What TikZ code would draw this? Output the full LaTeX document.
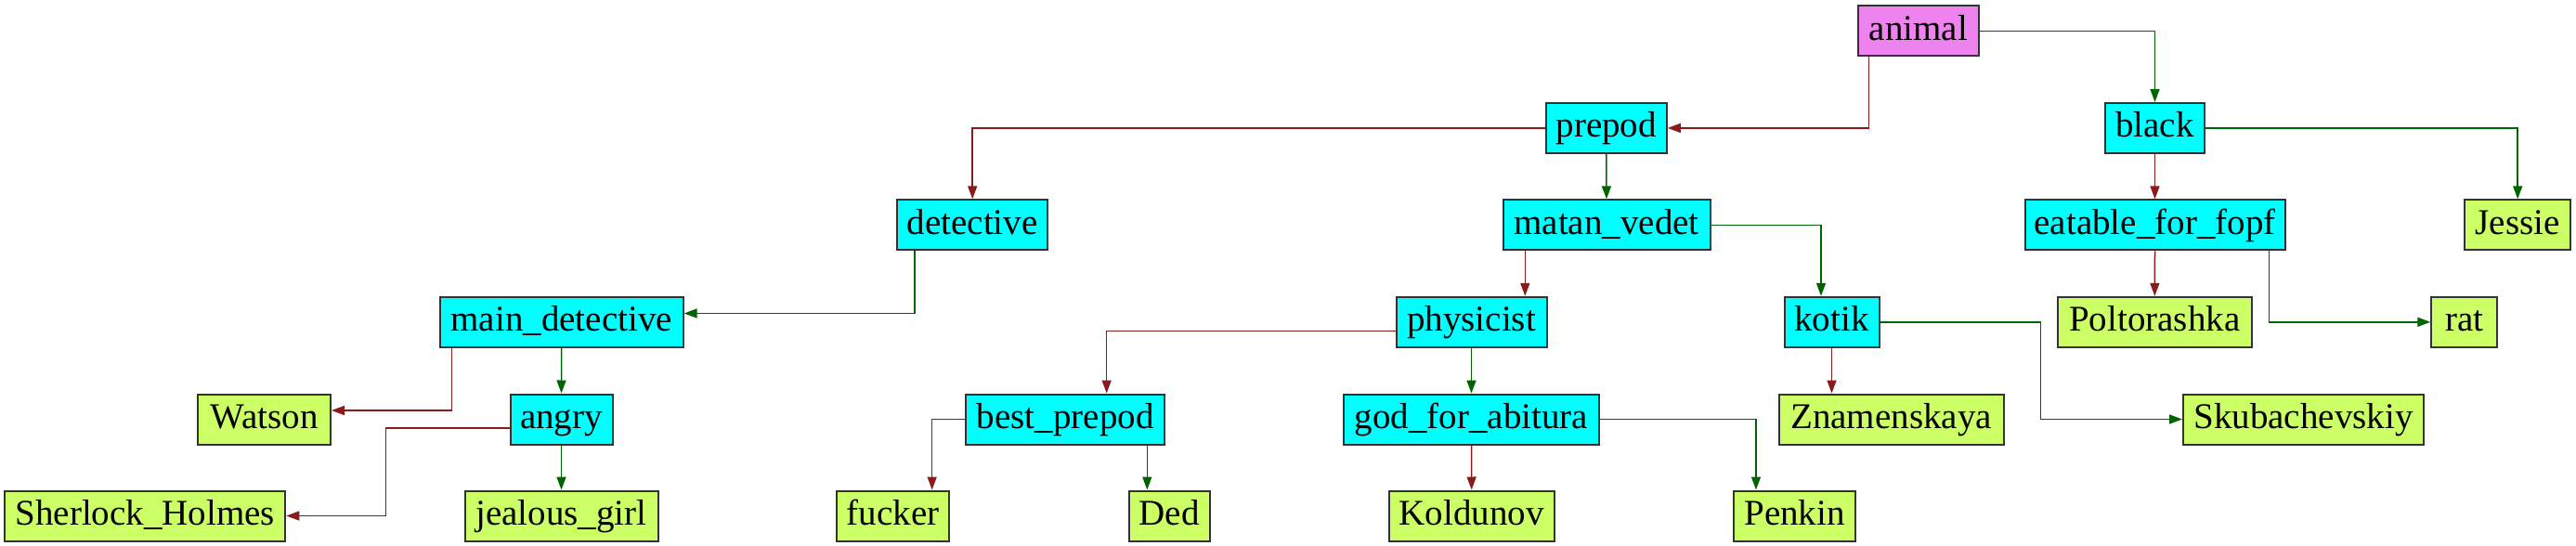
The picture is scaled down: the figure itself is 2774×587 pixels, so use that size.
\documentclass[tikz,border=0pt]{standalone}
\usepackage{fontspec}
\setmainfont{Liberation Serif}
\usetikzlibrary{arrows.meta}
\definecolor{cyanbox}{RGB}{0,255,255}
\definecolor{violetbox}{RGB}{238,130,238}
\definecolor{leafbox}{RGB}{204,255,102}
\definecolor{redge}{RGB}{139,26,26}
\definecolor{gedge}{RGB}{0,100,0}
\definecolor{bordc}{RGB}{51,51,51}
\begin{document}
\begin{tikzpicture}[x=1pt,y=-1pt,
  box/.style={draw=bordc, line width=2pt, rectangle, minimum height=54pt, inner sep=0pt,
    font=\fontsize{39pt}{47pt}\selectfont, text height=28pt, text depth=8pt, anchor=center},
  innerbox/.style={box, fill=cyanbox},
  leafbox/.style={box, fill=leafbox},
  rootbox/.style={box, fill=violetbox},
  redarr/.style={draw=redge, line width=1.5pt, -{Triangle[length=14pt,width=10pt]}},
  grnarr/.style={draw=gedge, line width=1.5pt, -{Triangle[length=14pt,width=10pt]}}]
\useasboundingbox (0,0) rectangle (2774,587);
% row 0
\node[rootbox, minimum width=130pt] (animal) at (2065.8,33.3) {animal};
% row 1
\node[innerbox, minimum width=130pt] (prepod) at (1729.8,137.9) {prepod};
\node[innerbox, minimum width=107pt] (black) at (2320.5,137.9) {black};
% row 2
\node[innerbox, minimum width=162pt] (detective) at (1047.2,242.3) {detective};
\node[innerbox, minimum width=223pt] (matan) at (1730,242.3) {matan\_vedet};
\node[innerbox, minimum width=280pt] (eatable) at (2320.5,242.3) {eatable\_for\_fopf};
\node[leafbox, minimum width=114pt] (Jessie) at (2711.2,242.3) {Jessie};
% row 3
\node[innerbox, minimum width=262pt] (main) at (604.7,346.8) {main\_detective};
\node[innerbox, minimum width=162pt] (physicist) at (1584.5,346.8) {physicist};
\node[innerbox, minimum width=102pt] (kotik) at (1972.5,346.8) {kotik};
\node[leafbox, minimum width=209pt] (Poltorashka) at (2320.3,346.8) {Poltorashka};
\node[leafbox, minimum width=71pt] (rat) at (2653.8,346.8) {rat};
% row 4
\node[leafbox, minimum width=143pt] (Watson) at (284.5,451.5) {Watson};
\node[innerbox, minimum width=110pt] (angry) at (604.5,451.5) {angry};
\node[innerbox, minimum width=214pt] (best) at (1147.2,451.5) {best\_prepod};
\node[innerbox, minimum width=275pt] (god) at (1584.5,451.5) {god\_for\_abitura};
\node[leafbox, minimum width=242pt] (Znam) at (2036.5,451.5) {Znamenskaya};
\node[leafbox, minimum width=259pt] (Skub) at (2480.5,451.5) {Skubachevskiy};
% row 5
\node[leafbox, minimum width=302pt] (Sherlock) at (156.3,555.5) {Sherlock\_Holmes};
\node[leafbox, minimum width=208pt] (jealous) at (604.5,555.5) {jealous\_girl};
\node[leafbox, minimum width=121pt] (fucker) at (961.7,555.5) {fucker};
\node[leafbox, minimum width=87pt] (Ded) at (1259.2,555.5) {Ded};
\node[leafbox, minimum width=178pt] (Koldunov) at (1584.7,555.5) {Koldunov};
\node[leafbox, minimum width=131pt] (Penkin) at (1932.5,555.5) {Penkin};
% edges
\draw[redarr] ([xshift=-53.5pt]animal.south) |- (prepod.east);
\draw[grnarr] (animal.east) -| (black.north);
\draw[redarr] (prepod.west) -| (detective.north);
\draw[grnarr] (prepod.south) -- (matan.north);
\draw[redarr] (black.south) -- (eatable.north);
\draw[grnarr] (black.east) -| (Jessie.north);
\draw[grnarr] ([xshift=-62.2pt]detective.south) |- ([yshift=9.3pt]main.east);
\draw[redarr] ([xshift=-87.7pt]matan.south) -- ([xshift=57.8pt]physicist.north);
\draw[grnarr] (matan.east) -| ([xshift=-11.5pt]kotik.north);
\draw[redarr] (eatable.south) -- (Poltorashka.north);
\draw[grnarr] ([xshift=122.8pt]eatable.south) |- (rat.west);
\draw[redarr] ([xshift=-118.4pt]main.south) |- ([yshift=9.5pt]Watson.east);
\draw[grnarr] (main.south) -- (angry.north);
\draw[redarr] ([yshift=-9.5pt]physicist.west) -| ([xshift=44.5pt]best.north);
\draw[grnarr] (physicist.south) -- (god.north);
\draw[redarr] (kotik.south) -- (kotik.south |- Znam.north);
\draw[grnarr] (kotik.east) -| ([xshift=-152.3pt]Skub.west) -- (Skub.west);
\draw[redarr] ([yshift=-9.5pt]angry.west) -| ([xshift=107pt]Sherlock.east) -- (Sherlock.east);
\draw[grnarr] (angry.south) -- (jealous.north);
\draw[redarr] (best.west) -| ([xshift=42pt]fucker.north);
\draw[grnarr] ([xshift=88.1pt]best.south) -- ([xshift=-23.9pt]Ded.north);
\draw[redarr] (god.south) -- (Koldunov.north);
\draw[grnarr] (god.east) -| ([xshift=-41.5pt]Penkin.north);
\end{tikzpicture}
\end{document}
